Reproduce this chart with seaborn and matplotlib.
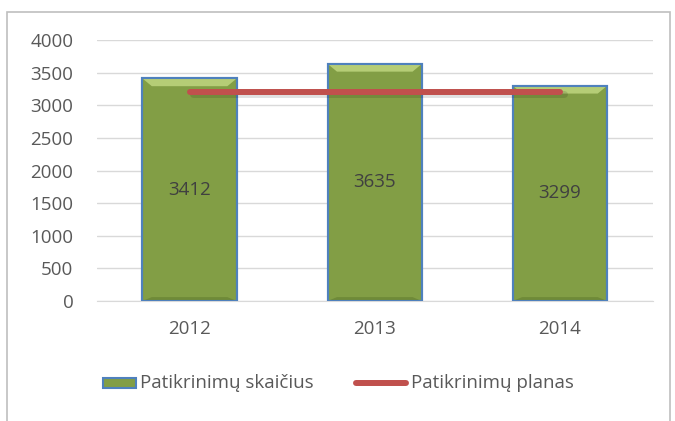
import numpy as np
import matplotlib
matplotlib.use("Agg")
import matplotlib.pyplot as plt
import seaborn as sns
from matplotlib.patches import Polygon, Rectangle
from matplotlib.lines import Line2D

# data
years = ["2012", "2013", "2014"]
checks = [3412, 3635, 3299]
plan = [3200, 3200, 3200]
y_ticks = [0, 500, 1000, 1500, 2000, 2500, 3000, 3500, 4000]
legend_labels = ["Patikrinimų skaičius", "Patikrinimų planas"]

sns.set_style("white")
plt.rcParams['font.family'] = ['Open Sans', 'DejaVu Sans']

fig = plt.figure(figsize=(6.75, 4.21), dpi=100)
ax = fig.add_axes([0.1437, 0.285, 0.823, 0.62])

green = "#829E45"
blue = "#4F81BD"
red = "#C0504D"
grey_txt = "#595959"
fs = 13.5

sns.barplot(x=years, y=checks, ax=ax, color=green, saturation=1,
            width=0.51, edgecolor=blue, linewidth=1.5, zorder=2)

# bevel on top and bottom of every bar
for p in ax.patches:
    x0, w, h = p.get_x(), p.get_width(), p.get_height()
    ins = w * 0.1
    ax.add_patch(Polygon([(x0, h), (x0 + w, h), (x0 + w - ins, h - 120), (x0 + ins, h - 120)],
                         closed=True, facecolor="#B5CD76", edgecolor="none", zorder=3))
    ax.add_patch(Polygon([(x0, 0), (x0 + w, 0), (x0 + w - ins, 60), (x0 + ins, 60)],
                         closed=True, facecolor="#6F8A38", edgecolor="none", zorder=3))
    ax.add_patch(Rectangle((x0, 0), w, h, fill=False, edgecolor=blue, lw=1.5, zorder=4))
    ax.text(x0 + w / 2, h / 2, f"{int(h)}", ha="center", va="center",
            fontsize=fs, color="#404040", zorder=5)

xs = np.arange(len(years))
ax.plot(xs + 0.02, np.array(plan) - 30, color="#000000", alpha=0.12, lw=5,
        solid_capstyle="round", zorder=5)
ax.plot(xs, plan, color=red, lw=4.3, solid_capstyle="round", zorder=6)

ax.set_ylim(0, 4000)
ax.set_xlim(-0.5, 2.5)
ax.set_yticks(y_ticks)
ax.set_yticklabels([str(v) for v in y_ticks])
ax.yaxis.grid(True, color="#D9D9D9", lw=1)
ax.set_axisbelow(True)
for s in ["top", "right", "left"]:
    ax.spines[s].set_visible(False)
ax.spines["bottom"].set_color("#D9D9D9")
ax.tick_params(axis="both", length=0, labelsize=fs, labelcolor=grey_txt)
ax.tick_params(axis="y", pad=17)
ax.tick_params(axis="x", pad=14)

# legend drawn by hand: short bar swatch, longer line swatch
ly = 1 - 383 / 421
fig.add_artist(Rectangle((103 / 675, ly - 5 / 421), 33 / 675, 10 / 421,
                         transform=fig.transFigure, facecolor=green,
                         edgecolor=blue, lw=1.5))
fig.text(140 / 675, ly, legend_labels[0], fontsize=fs, color=grey_txt,
         ha="left", va="center")
fig.add_artist(Line2D([356 / 675, 406 / 675], [ly, ly], transform=fig.transFigure,
                      color=red, lw=4.3, solid_capstyle="round"))
fig.text(411 / 675, ly, legend_labels[1], fontsize=fs, color=grey_txt,
         ha="left", va="center")

# outer chart frame
fig.patches.append(Rectangle((7 / 675, -0.05), 663 / 675, 1.05 - 12 / 421,
                             transform=fig.transFigure, fill=False,
                             edgecolor="#BFBFBF", lw=1.2))

fig.savefig("out.png", dpi=100)
